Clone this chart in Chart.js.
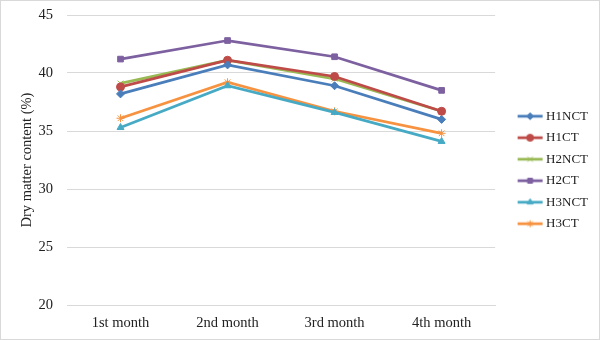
<!DOCTYPE html>
<html>
<head>
<meta charset="utf-8">
<script src="https://cdn.jsdelivr.net/npm/chart.js@4"></script>
<style>
  html, body { margin: 0; padding: 0; background: #fff; }
  #wrap { width: 600px; height: 340px; box-sizing: border-box; border: 1px solid #d9d9d9; }
</style>
</head>
<body>
<div id="wrap"><canvas id="dmChart" width="598" height="338"></canvas></div>
<script>
// data
const months = ['1st month', '2nd month', '3rd month', '4th month'];
const seriesNames = ['H1NCT', 'H1CT', 'H2NCT', 'H2CT', 'H3NCT', 'H3CT'];
const h1nct = [38.2, 40.7, 38.9, 36.0];
const h1ct  = [38.8, 41.1, 39.7, 36.7];
const h2nct = [39.1, 41.1, 39.5, 36.7];
const h2ct  = [41.2, 42.8, 41.4, 38.5];
const h3nct = [35.3, 38.9, 36.6, 34.1];
const h3ct  = [36.1, 39.2, 36.7, 34.8];
const yTicks = [20, 25, 30, 35, 40, 45];

const colors  = ['#4a7ebb', '#be4b48', '#98b954', '#7d60a0', '#46aac5', '#f69240'];
const markers = ['rectRot', 'circle', 'crossRot', 'rect', 'triangle', 'star'];
const values  = [h1nct, h1ct, h2nct, h2ct, h3nct, h3ct];

const FONT = "'Liberation Serif', 'Times New Roman', serif";

// legend box is 36px wide, the icon canvas is centred on it,
// so the short line sits at the right end next to the text
const BOX_W = 36;
const ICON_W = 44;
function legendIcon(color, style) {
    const c = document.createElement('canvas');
    c.width = ICON_W; c.height = 10;
    const g = c.getContext('2d');
    const x0 = ICON_W - 26, x1 = ICON_W - 1;
    g.strokeStyle = color;
    g.fillStyle = color;
    g.lineWidth = 2.75;
    g.beginPath(); g.moveTo(x0, 5); g.lineTo(x1, 5); g.stroke();
    g.lineWidth = 1;
    Chart.helpers.drawPoint(g, { pointStyle: style, radius: 3.5, borderWidth: 1, rotation: 0 }, (x0 + x1) / 2, 5);
    return c;
}
const icons = colors.map((c, i) => legendIcon(c, markers[i]));

// the legend in the picture is centred a bit higher than the full right column
const legendNudge = {
    id: 'legendNudge',
    afterLayout(chart) {
        chart.legend.top -= 7;
        chart.legend.bottom -= 7;
    }
};

document.addEventListener('DOMContentLoaded', function() {
    const ctx = document.getElementById('dmChart');
    new Chart(ctx, {
        type: 'line',
        data: {
            labels: months,
            datasets: seriesNames.map((name, i) => ({
                label: name,
                data: values[i],
                borderColor: colors[i],
                backgroundColor: colors[i],
                borderWidth: 2.75,
                pointStyle: markers[i],
                pointRadius: 4,
                pointBorderWidth: 1,
                pointBorderColor: colors[i],
                pointBackgroundColor: colors[i],
                tension: 0
            }))
        },
        options: {
            responsive: false,
            animation: false,
            layout: { padding: { top: 14, left: 17, right: 1, bottom: 0 } },
            plugins: {
                legend: {
                    position: 'right',
                    labels: {
                        usePointStyle: true,
                        pointStyleWidth: BOX_W,
                        padding: 8.5,
                        color: '#222',
                        font: { family: FONT, size: 13 },
                        generateLabels: chart => Chart.defaults.plugins.legend.labels.generateLabels(chart)
                            .map((item, i) => Object.assign(item, { pointStyle: icons[i] }))
                    }
                },
                tooltip: { enabled: false }
            },
            scales: {
                x: {
                    offset: true,
                    grid: { display: false, drawTicks: false },
                    border: { color: '#d9d9d9', width: 1 },
                    ticks: { color: '#222', padding: 9, font: { family: FONT, size: 14.5 } },
                    afterFit: axis => { axis.height = 34; }
                },
                y: {
                    min: 20,
                    max: 45,
                    afterBuildTicks: axis => { axis.ticks = yTicks.map(v => ({ value: v })); },
                    grid: { color: '#d9d9d9', drawTicks: false },
                    border: { display: false },
                    ticks: { color: '#222', padding: 14, font: { family: FONT, size: 14.5 } },
                    title: {
                        display: true,
                        text: 'Dry matter content (%)',
                        color: '#222',
                        padding: { top: 0, bottom: 6 },
                        font: { family: FONT, size: 14.5 }
                    },
                    afterFit: axis => {
                        axis.width = 49;
                        axis.paddingTop = 0;
                        axis.paddingBottom = 0;
                    }
                }
            }
        },
        plugins: [legendNudge]
    });
});
</script>
</body>
</html>
